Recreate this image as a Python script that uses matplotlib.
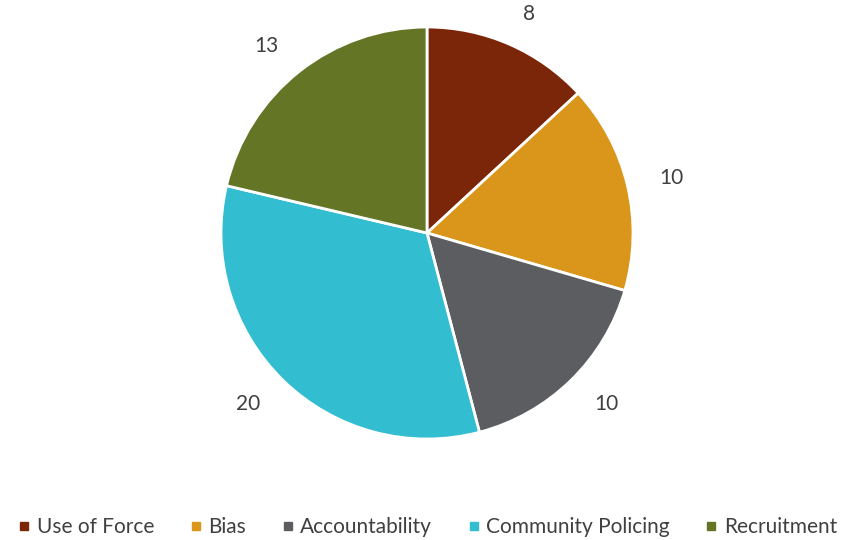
import matplotlib
matplotlib.use("Agg")
import matplotlib.pyplot as plt
from matplotlib.lines import Line2D

categories = ["Use of Force", "Bias", "Accountability", "Community Policing", "Recruitment"]
values = [8, 10, 10, 20, 13]
colors = ["#7B2608", "#D9961A", "#5C5D61", "#33BDD0", "#647526"]

plt.rcParams['font.family'] = ['Lato', 'DejaVu Sans']
text_color = "#404040"

W, H = 855, 540
fig = plt.figure(figsize=(W/100, H/100), dpi=100)
cx, cy, r = 427, 233, 206
ax = fig.add_axes([(cx - r)/W, 1 - (cy + r)/H, 2*r/W, 2*r/H])
ax.pie(values, colors=colors, startangle=90, counterclock=False,
       labels=[str(v) for v in values], labeldistance=1.16,
       wedgeprops=dict(edgecolor="white", linewidth=2),
       textprops=dict(fontsize=15, color=text_color))
ax.set_xlim(-1, 1)
ax.set_ylim(-1, 1)
ax.set_aspect('equal')
ax.axis('off')

handles = [Line2D([], [], marker='s', linestyle='none', markersize=6,
                  markerfacecolor=c, markeredgecolor=c) for c in colors]
fig.legend(handles, categories, loc='center', bbox_to_anchor=(0.5, 1 - 527/H),
           ncol=5, frameon=False, fontsize=15, handlelength=0.6,
           handletextpad=0.3, columnspacing=1.7, labelcolor=text_color)

fig.savefig("out.png", dpi=100)
